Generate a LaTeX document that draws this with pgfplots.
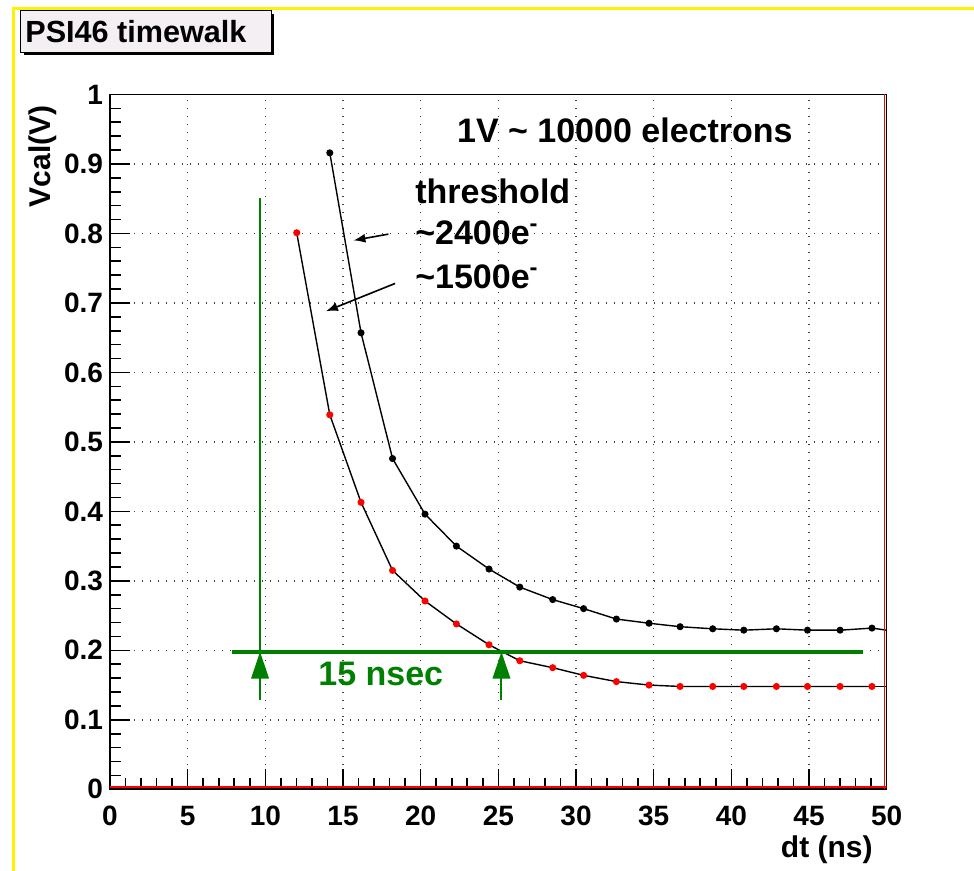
\documentclass[border=0pt]{standalone}
\usepackage{fontspec}
\setmainfont{Liberation Sans}
\usepackage{pgfplots}
\pgfplotsset{compat=1.18}
\usetikzlibrary{arrows.meta}
\definecolor{rootgreen}{RGB}{0,128,0}
\definecolor{titlefill}{RGB}{243,239,243}

\begin{document}
\begin{tikzpicture}
\path[use as bounding box] (0,0) rectangle (487pt,435.5pt);
% pad frame, title box, axis titles (pixel units, y up)
\begin{scope}[x=0.5pt,y=0.5pt]
  \draw[yellow, line width=1.35pt] (13.7,0) -- (13.7,862.3) -- (974,862.3);
  \fill[black] (23.7,815.5) rectangle (274,857);
  \draw[black, fill=titlefill, line width=0.5pt] (20.7,818.5) rectangle (271,860);
  \node[anchor=base west, inner sep=0, font=\fontsize{15.3}{18}\selectfont\bfseries] at (25,828) {PSI46 timewalk};
  \node[rotate=90, anchor=east, inner sep=0, font=\fontsize{15}{18}\selectfont\bfseries] at (43,766) {Vcal(V)};
  \node[anchor=east, inner sep=0, font=\fontsize{15}{18}\selectfont\bfseries] at (873,21) {dt (ns)};
\end{scope}

\begin{axis}[
    at={(55pt,40.85pt)}, anchor=south west,
    scale only axis,
    width=388.35pt,
    height=347.4pt,
    xmin=0, xmax=50,
    ymin=0, ymax=1,
    xtick={0,5,10,15,20,25,30,35,40,45,50},
    ytick={0,0.1,0.2,0.3,0.4,0.5,0.6,0.7,0.8,0.9,1},
    minor x tick num=4,
    minor y tick num=4,
    tick align=inside,
    xtick pos=bottom, ytick pos=left,
    major tick length=10pt,
    minor tick length=5.5pt,
    tick style={black, line width=0.8pt},
    grid=major,
    major grid style={black!75, line width=0.7pt, dash pattern=on 0.7pt off 3.3pt},
    axis line style={line width=0.8pt},
    /pgf/number format/assume math mode=true,
    tick label style={font=\fontsize{14}{16}\selectfont\bfseries},
    xticklabel style={yshift=-5pt},
]
% ~2400e- threshold
\addplot[black, line width=0.7pt, mark=*, mark size=1.4pt, mark options={fill=black}] coordinates {
  (14.15,0.916) (16.16,0.657) (18.19,0.476) (20.28,0.396) (22.30,0.350) (24.40,0.317)
  (26.38,0.291) (28.50,0.273) (30.49,0.260) (32.60,0.245) (34.70,0.239) (36.70,0.234)
  (38.80,0.231) (40.80,0.229) (42.90,0.231) (44.90,0.229) (47.00,0.229) (49.05,0.232)};
\addplot[black, line width=0.7pt, forget plot] coordinates {(49.05,0.232) (50,0.229)};
% ~1500e- threshold
\addplot[black, line width=0.7pt, mark=*, mark size=1.4pt, mark options={red, fill=red}] coordinates {
  (12.02,0.801) (14.15,0.539) (16.16,0.413) (18.19,0.315) (20.28,0.271) (22.30,0.238)
  (24.40,0.208) (26.38,0.185) (28.50,0.175) (30.49,0.164) (32.60,0.155) (34.70,0.150)
  (36.70,0.148) (38.80,0.148) (40.80,0.148) (42.90,0.148) (44.90,0.148) (47.00,0.148)
  (49.05,0.148)};
\addplot[black, line width=0.7pt, forget plot] coordinates {(49.05,0.148) (50,0.148)};

% red frame edges
\draw[red, line width=0.9pt] ([yshift=1.1pt]axis cs:0,0) -- ([yshift=1.1pt]axis cs:50,0);
\draw[red, line width=0.9pt] ([xshift=-1.1pt]axis cs:50,0) -- ([xshift=-1.1pt]axis cs:50,1);

% green 15 nsec marker
\draw[rootgreen, line width=2pt] (axis cs:7.83,0.198) -- (axis cs:48.5,0.198);
\draw[rootgreen, line width=1pt] (axis cs:9.66,0.198) -- (axis cs:9.66,0.851);
\draw[rootgreen, line width=1pt, -{Triangle[length=13.5pt,width=8.8pt]}] (axis cs:9.66,0.129) -- (axis cs:9.66,0.198);
\draw[rootgreen, line width=1pt, -{Triangle[length=13.5pt,width=8.8pt]}] (axis cs:25.2,0.129) -- (axis cs:25.2,0.198);
\node[text=rootgreen, inner sep=0, font=\fontsize{17}{20}\selectfont\bfseries] at (axis cs:17.43,0.166) {15 nsec};

% labels
\node[anchor=west, inner sep=0, font=\fontsize{17}{20}\selectfont\bfseries] at (axis cs:22.32,0.949) {1V \textasciitilde{} 10000 electrons};
\node[anchor=west, inner sep=0, font=\fontsize{17}{20}\selectfont\bfseries] at (axis cs:19.63,0.860) {threshold};
\node[anchor=west, inner sep=0, font=\fontsize{17}{20}\selectfont\bfseries] at (axis cs:19.63,0.801) {\textasciitilde2400e\textsuperscript{-}};
\node[anchor=west, inner sep=0, font=\fontsize{17}{20}\selectfont\bfseries] at (axis cs:19.63,0.738) {\textasciitilde1500e\textsuperscript{-}};
\draw[black, line width=0.8pt, -{Latex[length=6pt,width=4.5pt]}] (axis cs:17.92,0.799) -- (axis cs:15.67,0.790);
\draw[black, line width=0.8pt, -{Latex[length=6pt,width=4.5pt]}] (axis cs:18.35,0.728) -- (axis cs:13.90,0.688);
\end{axis}
\end{tikzpicture}
\end{document}
